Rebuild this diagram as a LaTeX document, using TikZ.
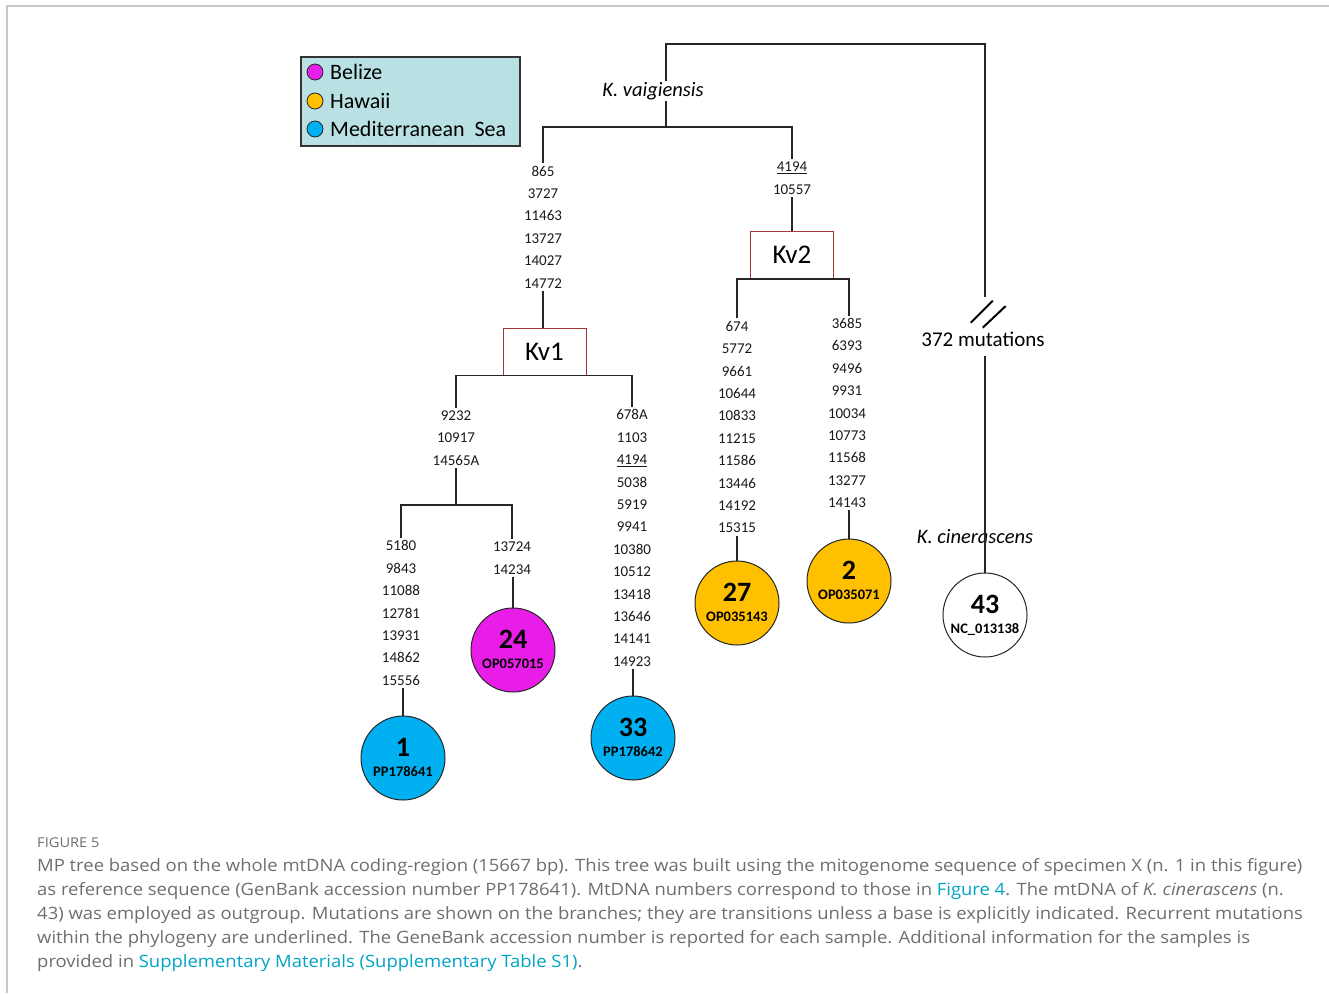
\documentclass[tikz,border=0pt]{standalone}
\usepackage{fontspec}
\setmainfont{Carlito}
\newfontfamily\capfont[FakeStretch=1.085]{Open Sans}
\usetikzlibrary{positioning}
\definecolor{belize}{RGB}{232, 30, 232}
\definecolor{hawaii}{RGB}{255, 192, 0}
\definecolor{medsea}{RGB}{0, 176, 240}
\definecolor{legendfill}{RGB}{185, 224, 226}
\definecolor{boxred}{RGB}{165, 55, 55}
\definecolor{captiongray}{RGB}{110, 110, 110}
\definecolor{linkblue}{RGB}{0, 163, 196}
\definecolor{framegray}{RGB}{200, 200, 200}

\tikzset{
  branch/.style={line width=1.2pt, draw=black!85},
  mutlist/.style={font=\fontsize{15}{22.4}\selectfont, align=center, inner sep=2.5pt, text=black!90},
  clade/.style={draw=boxred, line width=1pt, minimum width=83pt, minimum height=47pt, inner sep=0pt, font=\fontsize{27}{27}\selectfont},
  sample/.style={circle, draw=black!85, line width=1pt, minimum size=84pt, inner sep=0pt},
  numtxt/.style={font=\fontsize{28}{28}\selectfont\bfseries, yshift=11pt, inner sep=0pt},
  acctxt/.style={font=\fontsize{14.5}{14.5}\selectfont\bfseries, yshift=-14pt, inner sep=0pt},
  legdot/.style={circle, draw=black!85, line width=0.8pt, minimum size=16pt, inner sep=0pt},
  legtext/.style={anchor=west, font=\fontsize{22}{22}\selectfont, inner sep=0pt},
  species/.style={font=\fontsize{20.5}{20.5}\selectfont\itshape, inner sep=1pt},
  captext/.style={anchor=base west, font=\capfont\fontsize{17}{17}\selectfont, text=captiongray, inner sep=0pt},
}

\begin{document}
\begin{tikzpicture}[x=1pt, y=-1pt]
  \useasboundingbox (0,0) rectangle (1329,993);
  \draw[framegray, line width=1.5pt] (7,993) -- (7,6) -- (1329,6);

  % legend
  \node[draw=black!80, line width=1.2pt, fill=legendfill, minimum width=219pt, minimum height=89pt] (legend) at (410.5,101.5) {};
  \node[legdot, fill=belize] (dotbz) at (315,72) {};
  \node[legdot, fill=hawaii] (dothw) at (315,101) {};
  \node[legdot, fill=medsea] (dotms) at (315,129) {};
  \node[legtext] (txtbz) at (330,72) {Belize};
  \node[legtext] (txthw) at (330,101) {Hawaii};
  \node[legtext] (txtms) at (330,129) {Mediterranean\ \ Sea};

  % top of the tree
  \coordinate (root) at (666,44);
  \coordinate (outtop) at (985,44);
  \coordinate (kvsplit) at (666,127);
  \node[species] (kvaig) at (653,91) {K. vaigiensis};

  % mutation lists
  \node[mutlist] (m1) at (543,227) {865\\3727\\11463\\13727\\14027\\14772};
  \node[mutlist] (m2) at (792,178) {\underline{4194}\\10557};
  \node[mutlist] (m3) at (456,438) {9232\\10917\\14565A};
  \node[mutlist] (m4) at (632,538) {678A\\1103\\\underline{4194}\\5038\\5919\\9941\\10380\\10512\\13418\\13646\\14141\\14923};
  \node[mutlist] (m5) at (401,613) {5180\\9843\\11088\\12781\\13931\\14862\\15556};
  \node[mutlist] (m6) at (512,558) {13724\\14234};
  \node[mutlist] (m7) at (737,427) {674\\5772\\9661\\10644\\10833\\11215\\11586\\13446\\14192\\15315};
  \node[mutlist] (m8) at (847,413) {3685\\6393\\9496\\9931\\10034\\10773\\11568\\13277\\14143};

  % haplogroups
  \node[clade] (kv1) at (544.5,351.5) {Kv1};
  \node[clade] (kv2) at (792,255) {Kv2};

  % samples
  \node[sample, fill=medsea, label={[numtxt]center:1}, label={[acctxt]center:PP178641}] (s1) at (403,758) {};
  \node[sample, fill=belize, label={[numtxt]center:24}, label={[acctxt]center:OP057015}] (s24) at (513,650) {};
  \node[sample, fill=medsea, label={[numtxt]center:33}, label={[acctxt]center:PP178642}] (s33) at (633,738) {};
  \node[sample, fill=hawaii, label={[numtxt]center:27}, label={[acctxt]center:OP035143}] (s27) at (737,603) {};
  \node[sample, fill=hawaii, label={[numtxt]center:2}, label={[acctxt]center:OP035071}] (s2) at (849,581) {};
  \node[sample, fill=white, label={[numtxt]center:43}, label={[acctxt]center:NC\_013138}] (s43) at (985,615) {};

  % outgroup
  \coordinate (breaktop) at (985,297);
  \node[font=\fontsize{21}{21}\selectfont, inner sep=1pt, outer sep=9pt] (mut372) at (983,339) {372 mutations};
  \node[species] (kcin) at (975,537) {K. cinerascens};

  % branches
  \draw[branch] (kvaig.north -| root) -- (root) -- (outtop) -- (breaktop);
  \draw[branch] (kvaig.south -| kvsplit) -- (kvsplit);
  \draw[branch] (m1.north) |- (kvsplit) -| (m2.north);
  \draw[branch] (m1.south) -- (m1.south |- kv1.north);
  \draw[branch] (m2.south) -- (kv2.north);
  \draw[branch] (m3.north) |- (kv1.south) -| (m4.north);
  \coordinate (split3) at (456,505);
  \draw[branch] (m3.south) -- (split3);
  \draw[branch] (m5.north) |- (split3) -| (m6.north);
  \draw[branch] (m5.south -| s1) -- (s1.north);
  \draw[branch] (m6.south -| s24) -- (s24.north);
  \draw[branch] (m4.south -| s33) -- (s33.north);
  \draw[branch] (m7.south) -- (s27.north);
  \draw[branch] (m7.north) |- (kv2.south) -| (m8.north -| s2);
  \draw[branch] (m8.south -| s2) -- (s2.north);
  \draw[branch] (mut372.south -| s43) -- (s43.north);
  \draw[line width=2pt] (970.7,322.7) -- (992.7,300.7);
  \draw[line width=2pt] (982.7,327.7) -- (1005.7,306);

  % caption
  \node[captext, font=\capfont\fontsize{13.5}{13.5}\selectfont] (figno) at (37,847) {FIGURE 5};
  \node[captext] (cap1) at (37,871) {MP tree based on the whole mtDNA coding-region (15667 bp). This tree was built using the mitogenome sequence of specimen X (n. 1 in this figure)};
  \node[captext] (cap2) at (37,895) {as reference sequence (GenBank accession number PP178641). MtDNA numbers correspond to those in \textcolor{linkblue}{Figure 4}. The mtDNA of \textit{K. cinerascens} (n.};
  \node[captext] (cap3) at (37,919) {43) was employed as outgroup. Mutations are shown on the branches; they are transitions unless a base is explicitly indicated. Recurrent mutations};
  \node[captext] (cap4) at (37,943) {within the phylogeny are underlined. The GeneBank accession number is reported for each sample. Additional information for the samples is};
  \node[captext] (cap5) at (37,967) {provided in \textcolor{linkblue}{Supplementary Materials (Supplementary Table S1)}.};
\end{tikzpicture}
\end{document}
